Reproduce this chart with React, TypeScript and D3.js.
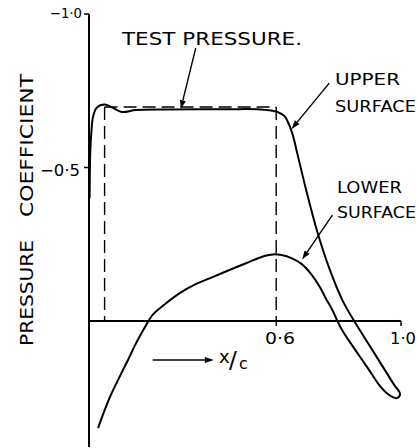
import { scaleLinear, line, curveCatmullRom } from "d3";

// chordwise position x/c and pressure coefficient Cp (negative = suction, plotted upward)
const upperX = [0.002, 0.004, 0.008, 0.013, 0.025, 0.05, 0.075, 0.105, 0.15, 0.25, 0.35, 0.45, 0.55, 0.604, 0.626, 0.642, 0.655, 0.665, 0.696, 0.732, 0.77, 0.812, 0.85, 0.898, 0.946, 0.978, 0.997];
const upperCp = [-0.4, -0.55, -0.62, -0.665, -0.695, -0.705, -0.695, -0.681, -0.687, -0.689, -0.69, -0.69, -0.689, -0.681, -0.668, -0.638, -0.599, -0.557, -0.427, -0.29, -0.172, -0.068, 0.0, 0.078, 0.156, 0.208, 0.238];

const lowerX = [0.029, 0.048, 0.07, 0.096, 0.125, 0.153, 0.179, 0.204, 0.236, 0.291, 0.342, 0.396, 0.45, 0.505, 0.562, 0.59, 0.617, 0.649, 0.681, 0.712, 0.738, 0.76, 0.78, 0.796, 0.815, 0.856, 0.898, 0.933, 0.962, 0.987];
const lowerCp = [0.349, 0.296, 0.241, 0.186, 0.127, 0.068, 0.02, -0.02, -0.049, -0.091, -0.12, -0.143, -0.166, -0.189, -0.212, -0.217, -0.215, -0.205, -0.186, -0.153, -0.114, -0.072, -0.036, 0.0, 0.036, 0.098, 0.16, 0.212, 0.241, 0.251];

// test pressure box
const testCp = -0.697;
const testX0 = 0.05;
const testX1 = 0.6;

const yTicks = [
  { v: -1.0, label: "−1·0" },
  { v: -0.5, label: "−0·5" },
];
const xTicks = [
  { v: 0.6, label: "0·6" },
  { v: 1.0, label: "1·0" },
];

interface Pt {
  x: number
  cp: number
}

const font = "'DejaVu Sans', sans-serif";

const Arrow = (props: { x1: number; y1: number; x2: number; y2: number }) => {
  const { x1, y1, x2, y2 } = props;
  const a = Math.atan2(y2 - y1, x2 - x1);
  const len = 9;
  const w = 3;
  const bx = x2 - len * Math.cos(a);
  const by = y2 - len * Math.sin(a);
  const px = -Math.sin(a) * w;
  const py = Math.cos(a) * w;
  return (
    <g>
      <line x1={x1} y1={y1} x2={bx} y2={by} stroke="#000" strokeWidth={1.4} />
      <path d={`M${x2},${y2}L${bx + px},${by + py}L${bx - px},${by - py}Z`} fill="#000" />
    </g>
  );
};

const App = () => {
  const width = 417;
  const height = 448;

  const x = scaleLinear().domain([0, 1]).range([89, 401]);
  const y = scaleLinear().domain([0, -1]).range([321, 14]);

  const upper: Pt[] = upperX.map((v, i) => ({ x: v, cp: upperCp[i] }));
  const lower: Pt[] = lowerX.map((v, i) => ({ x: v, cp: lowerCp[i] }));
  const loop = [...upper, ...lower.slice().reverse()];

  const curve = line<Pt>()
    .x(d => x(d.x))
    .y(d => y(d.cp))
    .curve(curveCatmullRom.alpha(0.5));

  const dash = "13,6";

  return (
    <svg width={width} height={height} style={{ position: "absolute", left: 0, top: 0, background: "#fff" }}>
      <rect width={width} height={height} fill="#fff" />

      {/* axes */}
      <line x1={x(0)} y1={y(-1)} x2={x(0)} y2={447} stroke="#000" strokeWidth={2} />
      <line x1={x(0)} y1={y(0)} x2={x(1)} y2={y(0)} stroke="#000" strokeWidth={2} />
      <line x1={x(1)} y1={y(0)} x2={x(1)} y2={y(0) + 5} stroke="#000" strokeWidth={1.5} />

      {yTicks.map(t => (
        <g key={t.label}>
          <line x1={x(0) - 5} y1={y(t.v)} x2={x(0)} y2={y(t.v)} stroke="#000" strokeWidth={1.5} />
          <text
            x={t.v === -1 ? 50 : 40}
            y={y(t.v) + (t.v === -1 ? 4 : 8)}
            fontFamily={font}
            fontSize={t.v === -1 ? 14 : 16}
            textLength={t.v === -1 ? 32 : 40}
            lengthAdjust="spacingAndGlyphs"
          >
            {t.label}
          </text>
        </g>
      ))}

      {xTicks.map(t => (
        <text
          key={t.label}
          x={t.v === 1 ? 390 : 265}
          y={344}
          fontFamily={font}
          fontSize={15}
          textLength={t.v === 1 ? 26 : 30}
          lengthAdjust="spacingAndGlyphs"
        >
          {t.label}
        </text>
      ))}

      {/* test pressure dashed box */}
      <line x1={x(testX0)} y1={y(testCp)} x2={x(testX0)} y2={y(0)} stroke="#000" strokeWidth={1.4} strokeDasharray={dash} />
      <line x1={x(testX0)} y1={y(testCp)} x2={x(testX1)} y2={y(testCp)} stroke="#000" strokeWidth={1.4} strokeDasharray={dash} />
      <line x1={x(testX1)} y1={y(testCp)} x2={x(testX1)} y2={y(0) + 5} stroke="#000" strokeWidth={1.4} strokeDasharray={dash} />

      {/* pressure distribution */}
      <path d={curve(loop) || ""} fill="none" stroke="#000" strokeWidth={2} strokeLinejoin="round" />

      {/* annotations */}
      <text x={122} y={45} fontFamily={font} fontSize={17} textLength={180} lengthAdjust="spacingAndGlyphs">TEST PRESSURE.</text>
      <Arrow x1={x(0.342)} y1={y(-0.889)} x2={x(0.294)} y2={y(-0.69)} />

      <text x={335} y={85} fontFamily={font} fontSize={15} textLength={65} lengthAdjust="spacingAndGlyphs">UPPER</text>
      <text x={335} y={112} fontFamily={font} fontSize={15} textLength={81} lengthAdjust="spacingAndGlyphs">SURFACE</text>
      <Arrow x1={x(0.77)} y1={y(-0.775)} x2={x(0.649)} y2={y(-0.625)} />

      <text x={337} y={193} fontFamily={font} fontSize={15} textLength={65} lengthAdjust="spacingAndGlyphs">LOWER</text>
      <text x={337} y={218} fontFamily={font} fontSize={15} textLength={79} lengthAdjust="spacingAndGlyphs">SURFACE</text>
      <Arrow x1={x(0.78)} y1={y(-0.345)} x2={x(0.683)} y2={y(-0.2)} />

      <Arrow x1={x(0.204)} y1={y(0.127)} x2={x(0.4)} y2={y(0.127)} />
      <text x={219} y={363} fontFamily={font} fontSize={18}>x</text>
      <text x={229} y={368} fontFamily={font} fontSize={23}>/</text>
      <text x={239} y={369} fontFamily={font} fontSize={16}>c</text>

      {/* y axis title */}
      <text transform="translate(33,346) rotate(-90)" fontFamily={font} fontSize={18} textLength={106} lengthAdjust="spacingAndGlyphs">PRESSURE</text>
      <text transform="translate(33,217) rotate(-90)" fontFamily={font} fontSize={18} textLength={143} lengthAdjust="spacingAndGlyphs">COEFFICIENT</text>
    </svg>
  );
};

export default App;
